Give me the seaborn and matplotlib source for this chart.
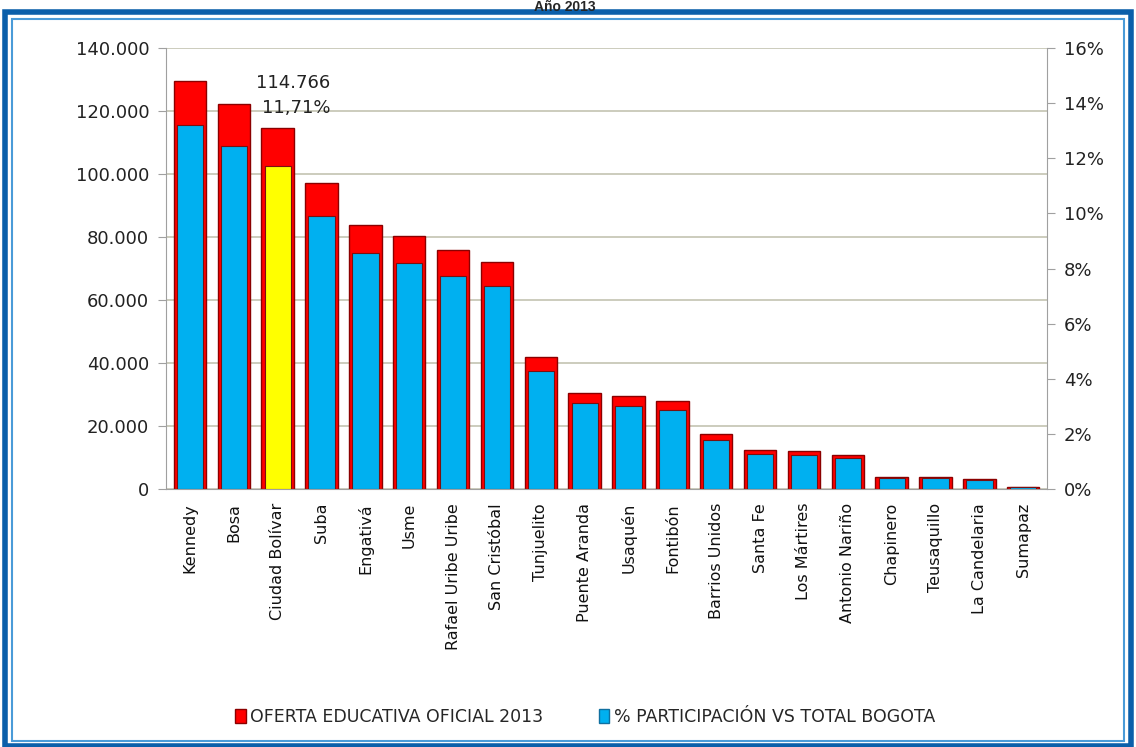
import numpy as np
import pandas as pd
import matplotlib
matplotlib.use("Agg")
import matplotlib.pyplot as plt
from matplotlib.patches import Rectangle, Patch
import seaborn as sns

# ── Data ─────────────────────────────────────────────────────────────────────
localidades = [
    "Kennedy", "Bosa", "Ciudad Bolívar", "Suba", "Engativá", "Usme",
    "Rafael Uribe Uribe", "San Cristóbal", "Tunjuelito", "Puente Aranda",
    "Usaquén", "Fontibón", "Barrios Unidos", "Santa Fe", "Los Mártires",
    "Antonio Nariño", "Chapinero", "Teusaquillo", "La Candelaria", "Sumapaz",
]
oferta_2013 = [
    129500, 122100, 114766, 97100, 83900, 80300,
    75900, 72100, 41800, 30500,
    29500, 27900, 17400, 12500, 12100,
    10900, 3900, 3800, 3200, 700,
]
participacion = [
    13.22, 12.46, 11.71, 9.91, 8.56, 8.19,
    7.74, 7.36, 4.27, 3.11,
    3.01, 2.85, 1.78, 1.28, 1.24,
    1.11, 0.40, 0.39, 0.33, 0.07,
]
highlight = "Ciudad Bolívar"

df = pd.DataFrame({"localidad": localidades,
                   "oferta": oferta_2013,
                   "pct": participacion})

RED = "#FF0000"
BLUE = "#00B0F0"
YELLOW = "#FFFF00"

sns.set_style("white")
plt.rcParams["font.family"] = ["DejaVu Sans"]

fig = plt.figure(figsize=(11.36, 7.47), dpi=100)
ax = fig.add_axes([0.146, 0.3454, 0.776, 0.5903])
ax2 = ax.twinx()

# red bars: total offer (left axis)
sns.barplot(data=df, x="localidad", y="oferta", ax=ax, color=RED, saturation=1,
            width=0.74, edgecolor="#8B0000", linewidth=1.0, zorder=2)

# blue bars: share of Bogotá total (right axis), highlighted district in yellow
bar_pal = {l: (YELLOW if l == highlight else BLUE) for l in localidades}
sns.barplot(data=df, x="localidad", y="pct", hue="localidad", palette=bar_pal,
            ax=ax2, width=0.6, dodge=False, legend=False, saturation=1,
            edgecolor="#7a1010", linewidth=0.8, zorder=3)

ax.set_ylim(0, 140000)
ax2.set_ylim(0, 16)
ax.set_xlim(-0.55, len(localidades) - 0.45)

ax.set_yticks(np.arange(0, 140001, 20000))
ax.set_yticklabels([f"{int(v):,}".replace(",", ".") for v in np.arange(0, 140001, 20000)],
                   fontsize=13, color="#222222")
ax2.set_yticks(np.arange(0, 17, 2))
ax2.set_yticklabels([f"{v}%" for v in range(0, 17, 2)], fontsize=13, color="#222222")

ax.set_xlabel("")
ax.set_ylabel("")
ax2.set_ylabel("")
ax.set_xticks(range(len(localidades)))
ax.set_xticklabels(localidades, rotation=90, fontsize=11.5, color="#111111")

ax.yaxis.grid(True, color="#c8c8b8", linewidth=1.3, zorder=0)
ax.set_axisbelow(True)
for a in (ax, ax2):
    for s in a.spines.values():
        s.set_visible(False)
ax.spines["left"].set_visible(True)
ax.spines["left"].set_color("#a0a0a0")
ax.spines["bottom"].set_visible(True)
ax.spines["bottom"].set_color("#a0a0a0")
ax2.spines["right"].set_visible(True)
ax2.spines["right"].set_color("#a0a0a0")
ax.tick_params(axis="y", length=6, color="#a0a0a0", pad=6)
ax2.tick_params(axis="y", length=6, color="#a0a0a0", pad=6)
ax.tick_params(axis="x", length=6, color="#a0a0a0", pad=4)

# annotation for the highlighted district
i = localidades.index(highlight)
ax.text(i + 1.2, 129000, f"{oferta_2013[i]:,}".replace(",", "."),
        ha="right", va="center", fontsize=13, color="#222222", zorder=5)
ax.text(i + 1.2, 121000, f"{participacion[i]:.2f}%".replace(".", ","),
        ha="right", va="center", fontsize=13, color="#222222", zorder=5)

# legend
handles = [Patch(facecolor=RED, edgecolor="#8B0000", label="OFERTA EDUCATIVA OFICIAL 2013"),
           Patch(facecolor=BLUE, edgecolor="#1070a0", label="% PARTICIPACIÓN VS TOTAL BOGOTA")]
fig.legend(handles=handles, loc="center", bbox_to_anchor=(0.515, 0.04), ncol=2,
           frameon=False, fontsize=12.5, handlelength=0.6, handleheight=0.8,
           handletextpad=0.25, columnspacing=3.2)

# title at the very top, above the frame
fig.text(0.497, 0.9995, "Año 2013", ha="center", va="top", zorder=20,
         fontsize=10, fontweight="bold", family=["Liberation Sans", "DejaVu Sans"])

# blue frame
fig.patches.append(Rectangle((0.004, 0.002), 0.992, 0.982, transform=fig.transFigure,
                             fill=False, edgecolor="#0B5FAA", linewidth=4, zorder=10))
fig.patches.append(Rectangle((0.011, 0.008), 0.978, 0.966, transform=fig.transFigure,
                             fill=False, edgecolor="#4A9BD8", linewidth=1.5, zorder=10))

fig.savefig("out.png", dpi=100)
